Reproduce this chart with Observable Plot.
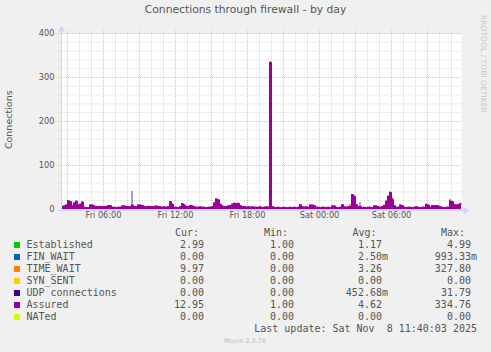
<!DOCTYPE html>
<html><head><meta charset="utf-8">
<script src="https://cdn.jsdelivr.net/npm/d3@7"></script>
<script src="https://cdn.jsdelivr.net/npm/@observablehq/plot@0.6"></script>
<style>
html,body{margin:0;padding:0;}
body{width:491px;height:352px;background:#f0f0f0;position:relative;overflow:hidden;font-family:"DejaVu Sans",sans-serif;color:#555;}
#chart{position:absolute;left:0;top:0;}
.t{position:absolute;white-space:pre;}
</style></head><body>
<div id="chart"></div>
<script>
// ---- data (10-minute samples, Fri 7 Nov 2025 02:30 UTC -> Sat 8 Nov 11:50) ----
const startTime = Date.UTC(2025, 10, 7, 2, 30);
const stepMinutes = 10;

const assured = [
  7,8,10,20,18,9,15,19,10,12,
  17,5,4,4,10,10,8,7,6,7,
  7,6,7,9,9,5,5,4,5,5,
  8,8,7,6,6,10,7,6,10,10,
  9,7,6,7,7,6,7,8,7,6,
  5,6,5,6,18,12,5,5,4,6,
  13,10,7,6,9,8,6,5,5,6,
  5,5,4,5,5,6,15,24,22,12,
  8,6,7,8,9,12,14,13,14,9,
  6,7,5,6,5,6,5,5,5,6,
  4,5,6,5,334.76,6,5,4,5,4,
  4,5,4,4,5,4,5,4,5,11,
  6,5,6,5,10,10,9,5,5,4,
  5,5,4,5,4,8,8,5,4,5,
  11,6,5,6,7,34,30,11,6,7,
  4,5,4,5,5,4,8,8,6,5,
  6,9,19,30,39,23,9,5,5,10,
  9,5,4,5,5,4,5,6,5,4,
  5,5,11,10,5,9,8,9,8,6,
  5,4,5,5,19,18,11,10,11,13,
  13
];

const established = [
  1,1,1,2,1,1,1,2,1,1,
  1,1,1,1,1,1,1,1,1,1,
  1,1,1,1,1,1,1,1,1,1,
  1,1,1,1,1,2,1,1,1,1,
  1,1,1,1,1,1,1,1,1,1,
  1,1,1,1,2,1,1,1,1,1,
  1,1,1,1,1,1,1,1,1,1,
  1,1,1,1,1,1,2,5,2,1,
  1,1,1,1,1,1,1,1,1,1,
  1,1,1,1,1,1,1,1,1,1,
  1,1,1,1,3,1,1,1,1,1,
  1,1,1,1,1,1,1,1,1,1,
  1,1,1,1,1,1,1,1,1,1,
  1,1,1,1,1,1,1,1,1,1,
  1,1,1,1,1,2,2,1,1,1,
  1,1,1,1,1,1,1,1,1,1,
  1,1,2,2,2,1,1,1,1,1,
  1,1,1,1,1,1,1,1,1,1,
  1,1,1,1,1,1,1,1,1,1,
  1,1,1,1,1,1,1,2,2,3,
  3
];

const timeWait = [
  4,5,6,14,13,6,11,14,7,8,
  12,3,2,2,7,6,5,4,3,4,
  4,3,4,6,6,2,3,2,2,3,
  5,5,4,3,3,7,4,3,7,6,
  6,4,3,4,4,3,4,5,4,3,
  2,3,2,3,13,8,2,2,2,3,
  9,7,4,3,6,5,3,2,2,3,
  2,2,2,2,2,3,11,17,16,8,
  5,3,4,5,6,8,10,9,10,6,
  3,4,2,3,2,3,2,2,2,3,
  2,2,3,2,327.8,3,2,2,2,2,
  2,2,2,2,2,2,2,2,2,7,
  3,2,3,2,7,6,6,2,2,2,
  2,2,2,2,2,5,5,2,2,2,
  7,3,2,3,10,28,25,8,3,3,
  2,2,2,2,2,2,5,5,3,2,
  3,9,15,25,34,26,8,2,2,7,
  6,2,2,2,2,2,2,3,2,2,
  2,2,12,7,2,6,5,6,5,3,
  2,2,2,2,21,14,8,7,8,10,
  10
];

// UDP connections: only non-zero samples
const udpIndex = [35, 149];
const udpValue = [31.79, 12];

// NATed: zero across the whole period
const natedIndex = [0, 200];
const natedValue = [0, 0];

const yTicks = [0, 100, 200, 300, 400];
const xLabelTicks = ["2025-11-07T06:00Z", "2025-11-07T12:00Z", "2025-11-07T18:00Z", "2025-11-08T00:00Z", "2025-11-08T06:00Z"];

const legendNames  = ["Established", "FIN_WAIT", "TIME_WAIT", "SYN_SENT", "UDP connections", "Assured", "NATed"];
const legendColors = ["#00CC00", "#0066B3", "#FF8000", "#FFCC00", "#330099", "#990099", "#CCFF00"];
const curValues = ["2.99", "0.00", "9.97", "0.00", "0.00", "12.95", "0.00"];
const minValues = ["1.00", "0.00", "0.00", "0.00", "0.00", "1.00", "0.00"];
const avgValues = ["1.17", "2.50m", "3.26", "0.00", "452.68m", "4.62", "0.00"];
const maxValues = ["4.99", "993.33m", "327.80", "0.00", "31.79", "334.76", "0.00"];

const titleText = "Connections through firewall - by day";
const yLabelText = "Connections";
const lastUpdateText = "Last update: Sat Nov  8 11:40:03 2025";
const footerText = "Munin 2.0.76";
const sideText = "RRDTOOL / TOBI OETIKER";

// ---- build tables ----
const tAt = i => new Date(startTime + i * stepMinutes * 60000);
const endTime = tAt(assured.length - 1);
const udpSeries = assured.map((_, i) => { const k = udpIndex.indexOf(i); return k >= 0 ? udpValue[k] : 0; });

const stackRows = [];
[["Established", established], ["TIME_WAIT", timeWait], ["UDP connections", udpSeries]].forEach(([s, arr]) => {
  arr.forEach((v, i) => stackRows.push({t: tAt(i), v, s}));
});
const assuredRows = assured.map((v, i) => ({t: tAt(i), v}));
const natedRows = natedIndex.map((i, k) => ({t: tAt(i), v: natedValue[k]}));

const hourTicks = d3.utcHour.range(new Date(startTime), new Date(+endTime + 1));
const majorX = hourTicks.filter(d => d.getUTCHours() % 3 === 0);
const minorX = hourTicks.filter(d => d.getUTCHours() % 3 !== 0);
const minorY = d3.range(20, 400, 20).filter(v => v % 100 !== 0);

const axisColor = "#CFD6F8";
const minorColor = "#dcdcdc";
const majorColor = "#f3b4b4";

const chart = Plot.plot({
  width: 491, height: 230,
  marginLeft: 61, marginRight: 30, marginTop: 33, marginBottom: 21,
  style: {background: "transparent", fontFamily: "DejaVu Sans", overflow: "visible"},
  x: {type: "utc", domain: [new Date(startTime), endTime], axis: null},
  y: {domain: [0, 400], axis: null},
  color: {domain: legendNames, range: legendColors},
  marks: [
    Plot.frame({fill: "#ffffff", stroke: null}),
    Plot.ruleY(minorY, {stroke: minorColor, strokeDasharray: "1,1", insetLeft: -3}),
    Plot.ruleX(minorX, {stroke: minorColor, strokeDasharray: "1,1", insetTop: -3, insetBottom: -2}),
    Plot.ruleY(yTicks.filter(v => v > 0), {stroke: majorColor, strokeDasharray: "1,1", insetLeft: -3}),
    Plot.ruleX(majorX, {stroke: majorColor, strokeDasharray: "1,1", insetTop: -3, insetBottom: -2}),
    Plot.areaY(stackRows, {x: "t", y: "v", z: "s", fill: "s",
      fillOpacity: d => d.s === "UDP connections" ? 0.4 : 1,
      order: ["Established", "TIME_WAIT", "UDP connections"], curve: "step-after"}),
    Plot.areaY(assuredRows, {x: "t", y: "v", fill: "#990099", curve: "step-after"}),
    Plot.lineY(assuredRows, {x: "t", y: "v", stroke: "#990099", strokeWidth: 1, curve: "step-after"}),
    Plot.lineY(natedRows, {x: "t", y: "v", stroke: "#CCFF00", strokeWidth: 1.2}),
    Plot.ruleX([new Date(startTime)], {stroke: axisColor, insetTop: -4, insetBottom: -1}),
    Plot.ruleY([0], {stroke: axisColor, dy: 1, insetLeft: -3, insetRight: -3}),
    Plot.dot([{t: new Date(startTime), v: 400}], {x: "t", y: "v", symbol: "triangle", r: 2.4, fill: axisColor, stroke: null, dy: -4}),
    Plot.dot([{t: endTime, v: 0}], {x: "t", y: "v", symbol: "triangle", r: 2.6, fill: axisColor, stroke: null, rotate: 90, dx: 4, dy: 1}),
    Plot.axisY(yTicks, {tickSize: 0, tickPadding: 7, fontSize: 8.2, color: "#555", label: null}),
    Plot.axisX(xLabelTicks.map(s => new Date(s)), {tickSize: 0, tickPadding: 3, fontSize: 8.2, color: "#555", label: null,
      tickFormat: d3.utcFormat("%a %H:%M")})
  ]
});
document.getElementById("chart").appendChild(chart);

// ---- text around the plot ----
function put(text, x, cy, {size = 10, family = '"DejaVu Sans Mono", monospace', anchor = "start", color = "#555"} = {}) {
  const d = document.createElement("div");
  d.className = "t";
  d.textContent = text;
  d.style.fontFamily = family;
  d.style.fontSize = size + "px";
  d.style.lineHeight = size + "px";
  d.style.color = color;
  d.style.top = (cy - size * 0.5) + "px";
  if (anchor === "start") d.style.left = x + "px";
  else if (anchor === "end") d.style.right = (491 - x) + "px";
  else { d.style.left = x + "px"; d.style.transform = "translateX(-50%)"; }
  document.body.appendChild(d);
  return d;
}
const sans = '"DejaVu Sans", sans-serif';
put(titleText, 245.5, 10.5, {size: 10.75, family: sans, anchor: "middle"});
const yl = put(yLabelText, 9, 120, {size: 9.5, family: sans, anchor: "middle"});
yl.style.transform = "translate(-50%, 0) rotate(-90deg)";
yl.style.transformOrigin = "50% 50%";

const side = document.createElement("div");
side.className = "t";
side.textContent = sideText;
Object.assign(side.style, {left: "478.5px", top: "15px", fontFamily: sans, fontSize: "7.6px", lineHeight: "9px",
  writingMode: "vertical-rl", color: "#c8c8c8"});
document.body.appendChild(side);

const headerY = 232.5, rowGap = 12;
put("Cur:", 199, headerY, {anchor: "end"});
put("Min:", 288, headerY, {anchor: "end"});
put("Avg:", 376.5, headerY, {anchor: "end"});
put("Max:", 465, headerY, {anchor: "end"});
const fmt = v => /[a-zA-Z]$/.test(v) ? v : v + " ";
legendNames.forEach((name, i) => {
  const cy = headerY + rowGap * (i + 1);
  const sq = document.createElement("div");
  Object.assign(sq.style, {position: "absolute", left: "14px", top: (cy - 3) + "px", width: "6px", height: "6px", background: legendColors[i]});
  document.body.appendChild(sq);
  put(name, 26.5, cy);
  put(fmt(curValues[i]), 210, cy, {anchor: "end"});
  put(fmt(minValues[i]), 300, cy, {anchor: "end"});
  put(fmt(avgValues[i]), 388, cy, {anchor: "end"});
  put(fmt(maxValues[i]), 477, cy, {anchor: "end"});
});
put(lastUpdateText, 477, headerY + rowGap * 8, {anchor: "end"});
put(footerText, 245, 341, {size: 6.4, family: sans, anchor: "middle", color: "#bdbdbd"});
</script></body></html>
